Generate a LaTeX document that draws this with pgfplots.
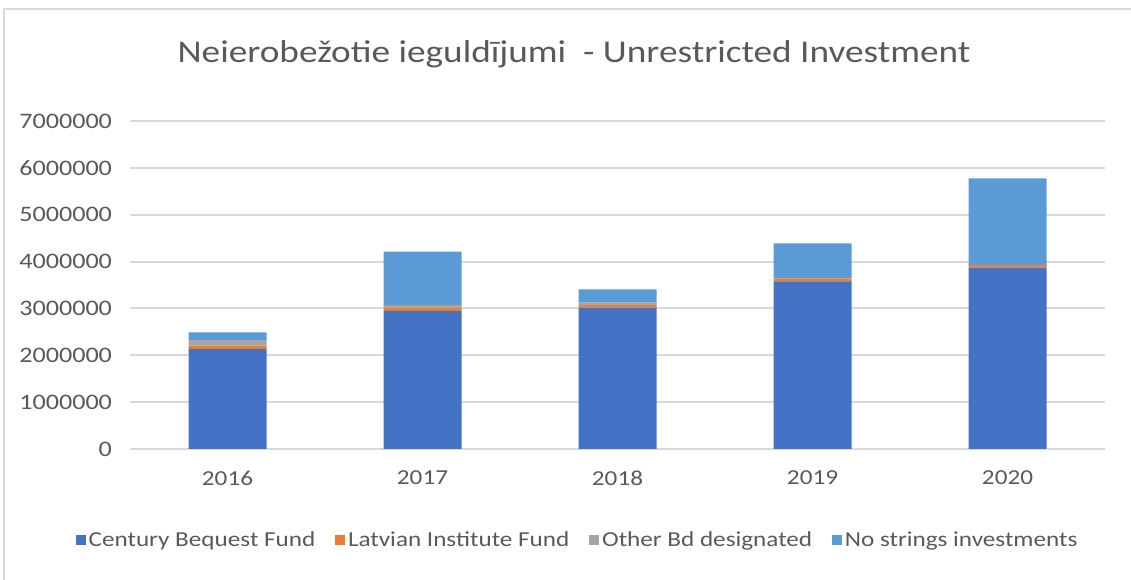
\documentclass[border=0pt]{standalone}
\usepackage{pgfplots}
\pgfplotsset{compat=1.18}
\usepackage{fontspec}
\setmainfont{Carlito}[FakeStretch=1.18]
\definecolor{cbf}{HTML}{4472C4}
\definecolor{lif}{HTML}{ED7D31}
\definecolor{obd}{HTML}{A5A5A5}
\definecolor{nsi}{HTML}{5B9BD5}
\definecolor{txt}{HTML}{595959}
\definecolor{grd}{HTML}{D9D9D9}
\begin{document}
\begin{tikzpicture}[x=1pt,y=1pt]
\path (0,0) rectangle (848.25,435);
\draw[grd, line width=1.5pt] (3,0) -- (3,428.25) -- (848.25,428.25);
\node[anchor=base, text=txt, font=\fontsize{23.7}{28}\selectfont, inner sep=0pt] at (430.5,388.3) {Neierobežotie ieguldījumi\ \ - Unrestricted Investment};
\begin{axis}[
  at={(97.5pt,98.25pt)}, anchor=south west,
  scale only axis, width=731.25pt, height=246pt,
  ybar stacked, bar width=58.5pt,
  xmin=-0.5, xmax=4.5, ymin=0, ymax=7000000,
  xtick=data, xticklabels={2016,2017,2018,2019,2020},
  ytick={0,1000000,...,7000000},
  scaled y ticks=false,
  /pgf/number format/.cd, fixed, 1000 sep={}, assume math mode=true, /pgfplots/.cd,
  axis line style={draw=none},
  major tick length=0pt,
  ymajorgrids, grid style={grd, line width=1.5pt},
  tick label style={text=txt, font=\fontsize{16}{19}\selectfont},
  yticklabel style={xshift=-10pt, font=\fontsize{16.6}{19}\selectfont},
  xticklabel style={yshift=-12.7pt},
  legend columns=4,
  legend style={draw=none, fill=none, at={(0.4595,-0.2774)}, anchor=center,
    font=\fontsize{16}{19}\selectfont, text=txt,
    /tikz/every even column/.append style={column sep=13pt}},
  legend image code/.code={\fill[#1] (0pt,-3.75pt) rectangle (7.5pt,3.75pt);},
]
\addplot[fill=cbf, draw=none] coordinates {(0,2134000) (1,2945000) (2,3015000) (3,3579000) (4,3869000)};
\addplot[fill=lif, draw=none] coordinates {(0,70000) (1,70000) (2,58000) (3,64000) (4,57000)};
\addplot[fill=obd, draw=none] coordinates {(0,120000) (1,58000) (2,50000) (3,10000) (4,5000)};
\addplot[fill=nsi, draw=none] coordinates {(0,166000) (1,1137000) (2,286000) (3,737000) (4,1846000)};
\legend{Century Bequest Fund, Latvian Institute Fund, Other Bd designated, No strings investments}
\end{axis}
\pgfresetboundingbox
\path[use as bounding box] (0,0) rectangle (848.25,435);
\end{tikzpicture}
\end{document}
